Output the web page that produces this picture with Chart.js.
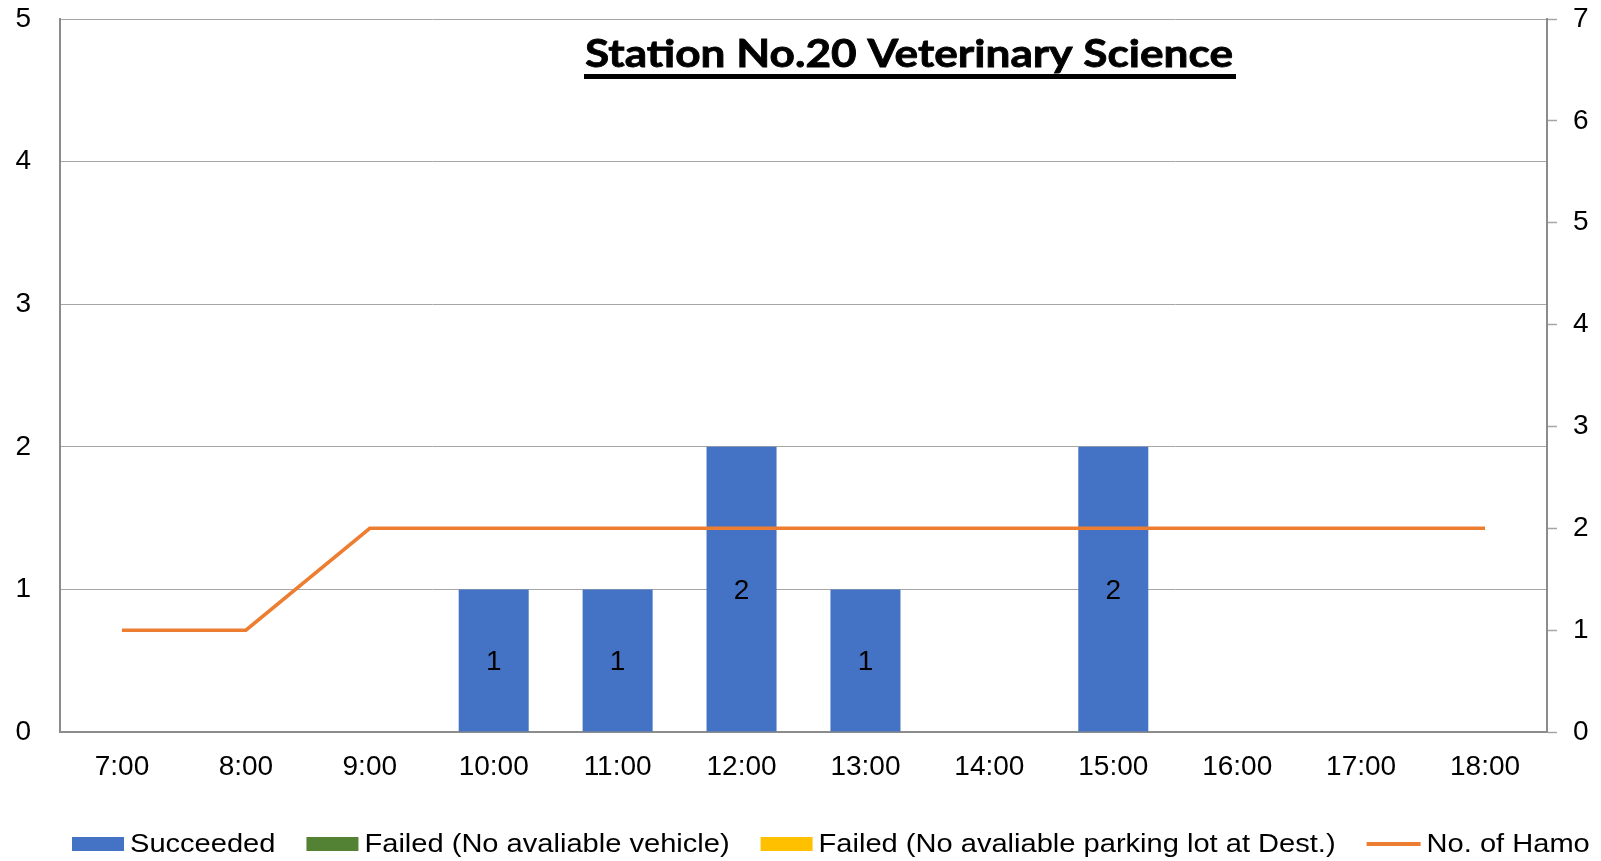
<!DOCTYPE html>
<html>
<head>
<meta charset="utf-8">
<title>Station No.20 Veterinary Science</title>
<script src="https://cdn.jsdelivr.net/npm/chart.js@4.4.1/dist/chart.umd.min.js"></script>
<style>
  html, body { margin: 0; padding: 0; background: #ffffff; }
  #wrap { position: relative; width: 1601px; height: 861px; }
</style>
</head>
<body>
<div id="wrap"><canvas id="c"></canvas></div>
<script>
// ---- data ----
const titleText = 'Station No.20 Veterinary Science';
const categories = ['7:00','8:00','9:00','10:00','11:00','12:00','13:00','14:00','15:00','16:00','17:00','18:00'];
const succeeded = [0, 0, 0, 1, 1, 2, 1, 0, 2, 0, 0, 0];
const failedNoVehicle = [0, 0, 0, 0, 0, 0, 0, 0, 0, 0, 0, 0];
const failedNoParking = [0, 0, 0, 0, 0, 0, 0, 0, 0, 0, 0, 0];
const hamoCount = [1, 1, 2, 2, 2, 2, 2, 2, 2, 2, 2, 2];
const seriesNames = ['Succeeded', 'Failed (No avaliable vehicle)', 'Failed (No avaliable parking lot at Dest.)', 'No. of Hamo'];
const leftTicks = [0, 1, 2, 3, 4, 5];
const rightTicks = [0, 1, 2, 3, 4, 5, 6, 7];

// ---- styles ----
const colors = ['#4472C4', '#548235', '#FFC000', '#ED7D31'];
const gridColor = '#A6A6A6';
const axisColor = '#8C8C8C';
const tickFont = { family: '"Liberation Sans", Arial, sans-serif', size: 28 };

const valueLabelPlugin = {
  id: 'valueLabels',
  afterDatasetsDraw(chart) {
    const ctx = chart.ctx;
    const meta = chart.getDatasetMeta(0);
    ctx.save();
    ctx.font = '28px "Liberation Sans", Arial, sans-serif';
    ctx.fillStyle = '#000000';
    ctx.textAlign = 'center';
    ctx.textBaseline = 'middle';
    meta.data.forEach((el, i) => {
      const v = chart.data.datasets[0].data[i];
      if (v > 0) {
        ctx.fillText(String(v), el.x, (el.y + el.base) / 2 + 2);
      }
    });
    ctx.restore();
  }
};

const titlePlugin = {
  id: 'innerTitle',
  afterDraw(chart) {
    const ctx = chart.ctx;
    ctx.save();
    ctx.font = 'bold 38px Lato, "Open Sans", sans-serif';
    ctx.fillStyle = '#000000';
    ctx.strokeStyle = '#000000';
    ctx.lineWidth = 0.8;
    ctx.textBaseline = 'alphabetic';
    ctx.textAlign = 'left';
    const w = ctx.measureText(titleText).width;
    const targetW = 648;
    const x0 = 585, base = 67;
    ctx.translate(x0, base);
    ctx.scale(targetW / w, 1);
    ctx.fillText(titleText, 0, 0);
    ctx.strokeText(titleText, 0, 0);
    ctx.restore();
    ctx.save();
    ctx.fillStyle = '#000000';
    ctx.fillRect(584, 74, 652, 5);
    ctx.restore();
  }
};

const legendPlugin = {
  id: 'customLegend',
  afterDraw(chart) {
    const ctx = chart.ctx;
    ctx.save();
    ctx.font = '26px "Liberation Sans", Arial, sans-serif';
    ctx.textBaseline = 'middle';
    ctx.textAlign = 'left';
    const sx = 1.118;
    const cy = 844;
    let x = 72;
    chart.data.datasets.forEach((ds, i) => {
      if (ds.type === 'line') {
        ctx.strokeStyle = ds.borderColor;
        ctx.lineWidth = 4;
        ctx.beginPath();
        ctx.moveTo(x, cy);
        ctx.lineTo(x + 54, cy);
        ctx.stroke();
        x += 54 + 6;
      } else {
        ctx.fillStyle = ds.backgroundColor;
        ctx.fillRect(x, cy - 7, 52, 14);
        x += 52 + 6;
      }
      const tw = ctx.measureText(ds.label).width * sx;
      ctx.save();
      ctx.fillStyle = '#000000';
      ctx.translate(x, cy + 1);
      ctx.scale(sx, 1);
      ctx.fillText(ds.label, 0, 0);
      ctx.restore();
      x += tw + 31;
    });
    ctx.restore();
  }
};

function zeroPad(scale) {
  scale.paddingTop = 0;
  scale.paddingBottom = 0;
  scale.paddingLeft = 0;
  scale.paddingRight = 0;
}

const barCommon = { type: 'bar', yAxisID: 'y', stack: 's', barPercentage: 0.565, categoryPercentage: 1.0, borderWidth: 0, order: 1 };

new Chart(document.getElementById('c'), {
  data: {
    labels: categories,
    datasets: [
      Object.assign({ label: seriesNames[0], data: succeeded, backgroundColor: colors[0] }, barCommon),
      Object.assign({ label: seriesNames[1], data: failedNoVehicle, backgroundColor: colors[1] }, barCommon),
      Object.assign({ label: seriesNames[2], data: failedNoParking, backgroundColor: colors[2] }, barCommon),
      {
        type: 'line', label: seriesNames[3], data: hamoCount, yAxisID: 'y1',
        borderColor: colors[3], backgroundColor: colors[3], borderWidth: 3.5,
        pointRadius: 0, pointHoverRadius: 0, tension: 0, fill: false, order: 0
      }
    ]
  },
  options: {
    responsive: true,
    maintainAspectRatio: false,
    animation: false,
    events: [],
    layout: { padding: { top: 19, bottom: 0, left: 0, right: 0 } },
    plugins: { legend: { display: false }, title: { display: false }, tooltip: { enabled: false } },
    scales: {
      x: {
        stacked: true,
        grid: { display: false, drawTicks: false },
        border: { display: true, color: axisColor, width: 2 },
        ticks: { font: tickFont, color: '#000000', padding: 18, maxRotation: 0, autoSkip: false },
        afterFit(scale) { scale.height = 129; zeroPad(scale); }
      },
      y: {
        position: 'left', stacked: true, min: leftTicks[0], max: leftTicks[leftTicks.length - 1],
        grid: { color: gridColor, lineWidth: 1, drawTicks: false },
        border: { display: true, color: axisColor, width: 2 },
        ticks: { stepSize: 1, font: tickFont, color: '#000000', padding: 29 },
        afterFit(scale) { scale.width = 60; zeroPad(scale); }
      },
      y1: {
        position: 'right', stacked: false, min: rightTicks[0], max: rightTicks[rightTicks.length - 1],
        grid: { drawOnChartArea: false, drawTicks: true, tickLength: 10, tickColor: gridColor, tickWidth: 1.5 },
        border: { display: true, color: axisColor, width: 2 },
        ticks: { stepSize: 1, font: tickFont, color: '#000000', padding: 16 },
        afterFit(scale) { scale.width = 54; zeroPad(scale); }
      }
    }
  },
  plugins: [valueLabelPlugin, titlePlugin, legendPlugin]
});
</script>
</body>
</html>
